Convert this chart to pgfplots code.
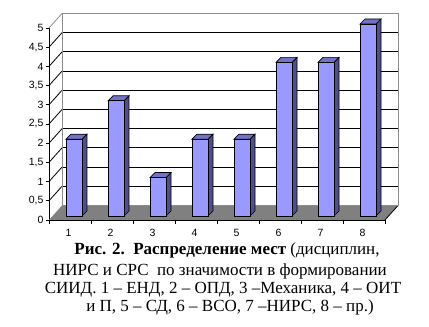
\documentclass[border=0pt]{standalone}
\usepackage{fontspec}
\setmainfont{Liberation Serif}
\newfontfamily\arialfont{Liberation Sans}
\usepackage{pgfplots}
\usepackage{pgfplotstable}
\usetikzlibrary{calc}
\pgfplotsset{compat=1.18}

\definecolor{barfront}{HTML}{9999FF}
\definecolor{bartop}{HTML}{7272C6}
\definecolor{barside}{HTML}{4F4F8F}
\definecolor{floorgray}{HTML}{808080}
\definecolor{wallgray}{HTML}{8C8C8C}

\pgfdeclareplotmark{empty}{}

% places, one row per category
\pgfplotstableread{
x v
1 2
2 3
3 1
4 2
5 2
6 4
7 4
8 5
}\places

\begin{document}
\begin{tikzpicture}[x=1pt,y=1pt]
\path[use as bounding box] (0,0) rectangle (429,327);
\begin{axis}[
  at={(49pt,107pt)}, anchor=south west,
  x=42pt, y=38.4pt,
  xmin=0.5, xmax=8.5, ymin=0, ymax=5,
  axis lines*=left,
  axis line style={black, line width=0.8pt},
  tick align=outside,
  tick style={black, line width=0.8pt},
  major tick length=3pt,
  minor tick length=4pt,
  xtick={1,...,8},
  major x tick style={draw=none},
  minor xtick={0.5,1.5,...,8.5},
  ytick={0,0.5,...,5},
  ymajorgrids,
  major grid style={black, line width=0.8pt, xshift=13pt, yshift=14.5pt},
  /pgf/number format/use comma,
  /pgf/number format/assume math mode=true,
  ticklabel style={font=\arialfont\fontsize{10.5}{11}\selectfont},
  x tick label style={yshift=-3pt, xshift=-1.5pt},
  y tick label style={xshift=1pt},
  clip=false,
]
% floor
\fill[floorgray] (axis cs:0.5,0) -- (axis cs:8.5,0) -- ++(13pt,14.5pt) -- ($(axis cs:0.5,0)+(13pt,14.5pt)$) -- cycle;
\draw[black, line width=0.8pt] (axis cs:8.5,0) -- ++(13pt,14.5pt);
% side wall edges
\pgfplotsinvokeforeach{0.5,1,...,4.5}{\draw[black, line width=0.8pt] (axis cs:0.5,#1) -- ++(13pt,14.5pt);}
\draw[wallgray, line width=0.8pt] (axis cs:0.5,5) -- ++(13pt,14.5pt);
% back wall outline
\draw[wallgray, line width=0.8pt] ($(axis cs:0.5,0)+(13pt,14.5pt)$) rectangle ($(axis cs:8.5,5)+(13pt,14.5pt)$);
% bars
\addplot[scatter, only marks, mark=empty,
  visualization depends on={\thisrow{v} \as \val},
  scatter/@pre marker code/.code={%
    \pgfmathsetlengthmacro\bh{\val*38.4pt}%
    \filldraw[draw=black, fill=barside, line width=0.7pt]
      (12pt,{4pt-\bh}) -- (17pt,{9pt-\bh}) -- (17pt,9pt) -- (12pt,4pt) -- cycle;
    \filldraw[draw=black, fill=bartop, line width=0.7pt]
      (-4pt,4pt) -- (12pt,4pt) -- (17pt,9pt) -- (1pt,9pt) -- cycle;
    \filldraw[draw=black, fill=barfront, line width=0.7pt]
      (-4pt,{4pt-\bh}) rectangle (12pt,4pt);
  },
  scatter/@post marker code/.code={},
] table[x=x, y=v] {\places};
\end{axis}
\begin{scope}[font=\fontsize{17}{19}\selectfont]
\node[anchor=base, inner sep=0pt] at (227,72) {\textbf{Рис. 2.\ \ Распределение мест} (дисциплин,};
\node[anchor=base, inner sep=0pt] at (220,51) {НИРС и СРС\ \ по значимости в формировании};
\node[anchor=base, inner sep=0pt] at (223,33) {СИИД. 1 – ЕНД, 2 – ОПД, 3 –Механика, 4 – ОИТ};
\node[anchor=base, inner sep=0pt] at (230,15) {и П, 5 – СД, 6 – ВСО, 7 –НИРС, 8 – пр.)};
\end{scope}
\end{tikzpicture}
\end{document}
